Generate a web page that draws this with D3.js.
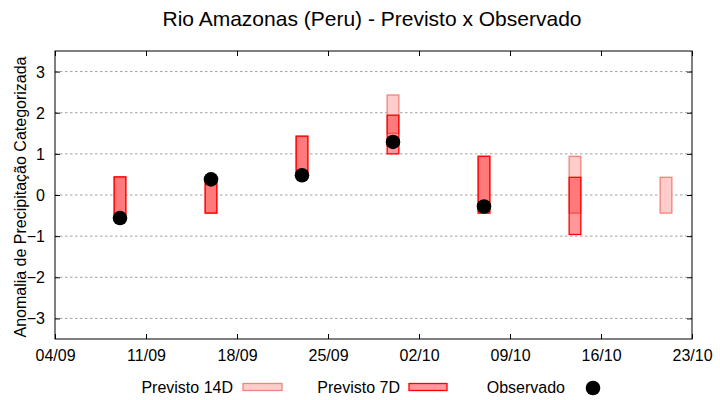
<!DOCTYPE html>
<html>
<head>
<meta charset="utf-8">
<script src="https://cdn.jsdelivr.net/npm/d3@7"></script>
<style>
  html, body { margin: 0; padding: 0; background: #fff; }
  svg text { font-family: "Liberation Sans", Arial, sans-serif; }
</style>
</head>
<body>
<svg id="chart" width="720" height="400"></svg>
<script>
// ---- Data ----
const dates = ["09/09", "16/09", "23/09", "30/09", "07/10", "14/10", "21/10"];
const prev14Low  = [-0.56, -0.44, 0.48, 1.50, -0.44, -0.44, -0.44];
const prev14High = [ 0.44,  0.40, 1.43, 2.43,  0.94,  0.94,  0.43];
const prev7Low   = [-0.56, -0.44, 0.48, 1.00, -0.44, -0.96, null];
const prev7High  = [ 0.44,  0.40, 1.43, 1.94,  0.94,  0.43, null];
const observed   = [-0.56,  0.38, 0.48, 1.29, -0.28, null, null];
const xTickLabels = ["04/09", "11/09", "18/09", "25/09", "02/10", "09/10", "16/10", "23/10"];
const yTicks = [-3, -2, -1, 0, 1, 2, 3];
const title = "Rio Amazonas (Peru) - Previsto x Observado";
const yTitle = "Anomalia de Precipitação Categorizada";
const legendLabels = ["Previsto 14D", "Previsto 7D", "Observado"];

// ---- Setup ----
const parse = s => d3.utcParse("%d/%m/%Y")(s + "/2019");
const fmt = d3.utcFormat("%d/%m");
const svg = d3.select("#chart");
const L = 55, R = 692, T = 51, B = 339;

const xTickVals = xTickLabels.map(parse);
const x = d3.scaleUtc().domain([xTickVals[0], xTickVals[xTickVals.length - 1]]).range([L, R]);
const y = d3.scaleLinear().domain([-3.5, 3.5]).range([B, T]);
const dayMs = 864e5;
const halfW = 0.45;

// grid
svg.append("g").selectAll("line").data(yTicks).join("line")
  .attr("x1", L).attr("x2", R)
  .attr("y1", d => y(d)).attr("y2", d => y(d))
  .attr("stroke", "#a0a0a0").attr("stroke-width", 1)
  .attr("stroke-dasharray", "2.5,2.5");

// bars helper
function bars(lows, highs, fill, stroke) {
  const data = dates.map((d, i) => ({ d: parse(d), lo: lows[i], hi: highs[i] }))
    .filter(e => e.lo != null && e.hi != null);
  svg.append("g").selectAll("rect").data(data).join("rect")
    .attr("x", e => x(new Date(+e.d - halfW * dayMs)))
    .attr("width", e => x(new Date(+e.d + halfW * dayMs)) - x(new Date(+e.d - halfW * dayMs)))
    .attr("y", e => y(e.hi))
    .attr("height", e => y(e.lo) - y(e.hi))
    .attr("fill", fill).attr("stroke", stroke).attr("stroke-width", 1.3);
}
bars(prev14Low, prev14High, "#ffcccc", "#f0847c");
bars(prev7Low, prev7High, "rgba(255,0,0,0.4)", "#ff0000");

// observed dots
const obs = dates.map((d, i) => ({ d: parse(d), v: observed[i] })).filter(e => e.v != null);
svg.append("g").selectAll("circle").data(obs).join("circle")
  .attr("cx", e => x(e.d)).attr("cy", e => y(e.v)).attr("r", 7.3).attr("fill", "#000");

// frame
svg.append("rect").attr("x", L).attr("y", T).attr("width", R - L).attr("height", B - T)
  .attr("fill", "none").attr("stroke", "#000").attr("stroke-width", 1);

// axes (inward ticks, mirrored)
const xb = d3.axisBottom(x).tickValues(xTickVals).tickFormat(fmt).tickSize(-5).tickPadding(10);
const gxb = svg.append("g").attr("transform", `translate(0,${B})`).call(xb);
const gxt = svg.append("g").attr("transform", `translate(0,${T})`)
  .call(d3.axisTop(x).tickValues(xTickVals).tickFormat("").tickSize(-5));
const yl = d3.axisLeft(y).tickValues(yTicks).tickFormat(d3.format("d")).tickSize(-5).tickPadding(10);
const gyl = svg.append("g").attr("transform", `translate(${L},0)`).call(yl);
const gyr = svg.append("g").attr("transform", `translate(${R},0)`)
  .call(d3.axisRight(y).tickValues(yTicks).tickFormat("").tickSize(-5));
[gxb, gxt, gyl, gyr].forEach(g => {
  g.select(".domain").remove();
  g.selectAll(".tick line").attr("stroke", "#000");
  g.selectAll("text").attr("font-family", "Liberation Sans, Arial, sans-serif")
    .attr("font-size", 16).attr("fill", "#000");
});
gyl.selectAll("text").attr("dy", "0.34em");
gxb.selectAll("text").attr("dy", "0.72em");

// title
svg.append("text").attr("x", 372).attr("y", 26).attr("text-anchor", "middle")
  .attr("font-size", 21).attr("fill", "#000").text(title);

// y title
svg.append("text").attr("transform", `translate(26,${(T + B) / 2 + 2}) rotate(-90)`)
  .attr("text-anchor", "middle").attr("font-size", 16).attr("fill", "#000").text(yTitle);

// legend
const lg = svg.append("g");
const legendX = [233, 400, 565];
const ly = 387;
legendLabels.forEach((lab, i) => {
  lg.append("text").attr("x", legendX[i]).attr("y", ly + 5.5).attr("text-anchor", "end")
    .attr("font-size", 16).attr("fill", "#000").text(lab);
});
lg.append("rect").attr("x", 243).attr("y", ly - 3.5).attr("width", 39).attr("height", 7)
  .attr("fill", "#ffcccc").attr("stroke", "#f0847c").attr("stroke-width", 1.3);
lg.append("rect").attr("x", 409).attr("y", ly - 3.5).attr("width", 38).attr("height", 7)
  .attr("fill", "rgba(255,0,0,0.4)").attr("stroke", "#ff0000").attr("stroke-width", 1.3);
lg.append("circle").attr("cx", 593).attr("cy", ly + 1).attr("r", 7.3).attr("fill", "#000");
</script>
</body>
</html>
